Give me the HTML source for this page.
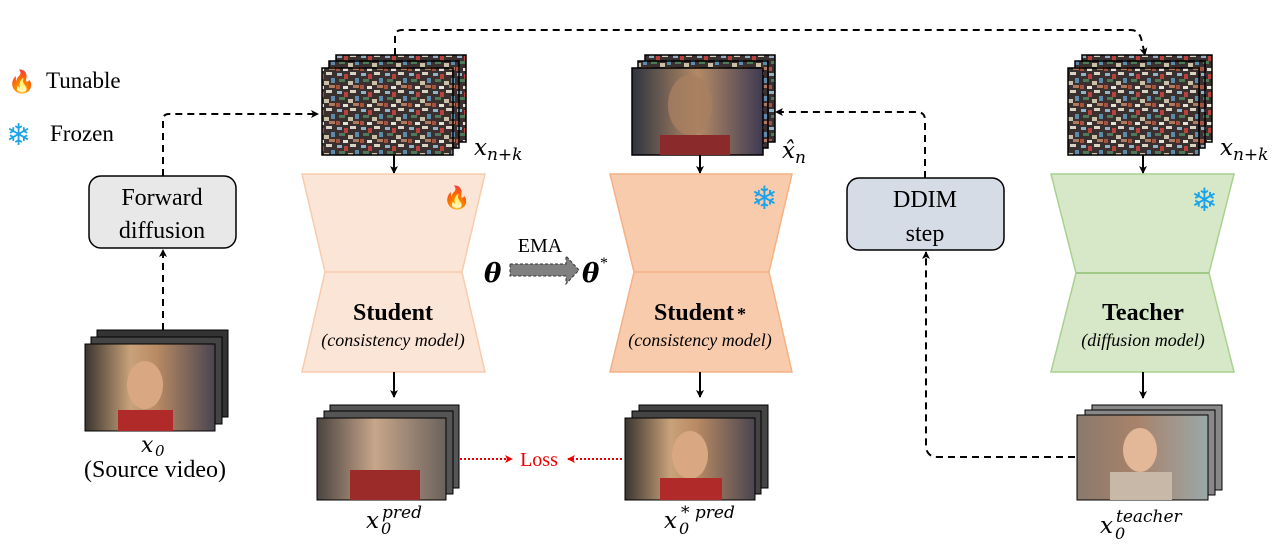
<!DOCTYPE html>
<html><head><meta charset="utf-8"><style>
html,body{margin:0;padding:0;background:#fff;}
svg{display:block;}
text{font-family:"Liberation Serif","DejaVu Serif",serif;}
.m{font-family:"DejaVu Serif","Liberation Serif",serif;font-style:italic;}
</style></head><body>
<svg width="1279" height="548" viewBox="0 0 1279 548" xmlns="http://www.w3.org/2000/svg">
<defs>
<marker id="ah" markerWidth="8" markerHeight="8" refX="7" refY="4" orient="auto" markerUnits="userSpaceOnUse"><path d="M0,0 L8,4 L0,8 L2,4 z" fill="#000"/></marker>
<marker id="ahr" markerWidth="8" markerHeight="8" refX="7" refY="4" orient="auto" markerUnits="userSpaceOnUse"><path d="M0,0 L8,4 L0,8 L2,4 z" fill="#e00"/></marker>
<pattern id="noise" width="24" height="18" patternUnits="userSpaceOnUse">
<rect width="24" height="18" fill="#3a3030"/>
<rect x="1" y="1" width="5" height="3" fill="#8fb3c9"/><rect x="8" y="2" width="4" height="5" fill="#b9423c"/>
<rect x="14" y="0" width="6" height="3" fill="#d8d3c2"/><rect x="3" y="7" width="6" height="3" fill="#4f7a5a"/>
<rect x="12" y="9" width="5" height="4" fill="#c9c0a8"/><rect x="19" y="6" width="4" height="5" fill="#5d8aac"/>
<rect x="0" y="13" width="4" height="4" fill="#a7513f"/><rect x="7" y="14" width="5" height="3" fill="#e6e2d6"/>
<rect x="17" y="13" width="6" height="3" fill="#b07a60"/>
</pattern>
<linearGradient id="g0" x1="0" y1="0" x2="1" y2="0"><stop offset="0" stop-color="#3a3530"/><stop offset=".35" stop-color="#c9a27a"/><stop offset=".55" stop-color="#b98a64"/><stop offset="1" stop-color="#4a4550"/></linearGradient>
<linearGradient id="gb" x1="0" y1="0" x2="1" y2="0"><stop offset="0" stop-color="#4a4440"/><stop offset=".45" stop-color="#c8a68a"/><stop offset="1" stop-color="#6a625c"/></linearGradient>
<linearGradient id="gt" x1="0" y1="0" x2="1" y2="0"><stop offset="0" stop-color="#8a7a6c"/><stop offset=".45" stop-color="#a8826a"/><stop offset="1" stop-color="#9aa8a8"/></linearGradient>
<linearGradient id="gs" x1="0" y1="0" x2="1" y2="0"><stop offset="0" stop-color="#2e3440"/><stop offset=".5" stop-color="#b48a66"/><stop offset="1" stop-color="#3e3a52"/></linearGradient>
</defs>

<!-- legend -->
<text x="8" y="89" font-size="22">🔥</text>
<text x="46" y="88" font-size="23">Tunable</text>
<text x="6" y="145" font-size="30" fill="#1aa3e8">❄</text>
<text x="50" y="141" font-size="23">Frozen</text>

<!-- Forward diffusion -->
<rect x="89" y="176" width="147" height="72" rx="12" fill="#e8e8e8" stroke="#000" stroke-width="1.5"/>
<text x="162" y="205" font-size="24" text-anchor="middle">Forward</text>
<text x="162" y="238" font-size="24" text-anchor="middle">diffusion</text>
<path d="M163,330 L163,250" stroke="#000" stroke-width="2" stroke-dasharray="7,5" fill="none" marker-end="url(#ah)"/>
<path d="M163,176 L163,120 Q163,114 169,114 L318,114" stroke="#000" stroke-width="2" stroke-dasharray="7,5" fill="none" marker-end="url(#ah)"/>

<!-- x0 stack -->
<rect x="97" y="330" width="131" height="87" fill="#333" stroke="#000"/>
<rect x="91" y="337" width="131" height="87" fill="#444" stroke="#000"/>
<rect x="85" y="344" width="130" height="87" fill="url(#g0)" stroke="#000"/>
<ellipse cx="145" cy="385" rx="18" ry="24" fill="#d9a883"/>
<rect x="118" y="410" width="55" height="21" fill="#b02a2a"/>
<text x="141" y="452" font-size="22" class="m">x</text><text x="155" y="456" font-size="15" class="m" font-style="normal">0</text>
<text x="155" y="477" font-size="24" text-anchor="middle">(Source video)</text>

<!-- top dashed -->
<path d="M395,55 L395,37 Q395,30 402,30 L1131,30 Q1138,30 1141,38 L1145,55" stroke="#000" stroke-width="2" stroke-dasharray="7,5" fill="none" marker-end="url(#ah)"/>

<!-- Student stack noise -->
<rect x="336" y="55" width="130" height="87" fill="url(#noise)" stroke="#000" stroke-width="1.5"/>
<rect x="329" y="61" width="130" height="87" fill="url(#noise)" stroke="#000" stroke-width="1.5"/>
<rect x="322" y="68" width="131" height="87" fill="url(#noise)" stroke="#000" stroke-width="1.5"/>
<text x="474" y="155" font-size="23" class="m">x<tspan font-size="17" dy="5">n+k</tspan></text>
<path d="M394,155 L394,173" stroke="#000" stroke-width="2" marker-end="url(#ah)"/>

<!-- Student -->
<path d="M302,174 L485,174 L462,272 L485,372 L302,372 L325,272 Z" fill="#fbe5d6" stroke="#f8cbad" stroke-width="1.5"/>
<line x1="325" y1="272" x2="462" y2="272" stroke="#f8cbad" stroke-width="1.5"/>
<text x="443" y="205" font-size="22">🔥</text>
<text x="393" y="320" font-size="24" font-weight="bold" text-anchor="middle">Student</text>
<text x="393" y="346" font-size="18" font-style="italic" text-anchor="middle">(consistency model)</text>
<path d="M394,372 L394,397" stroke="#000" stroke-width="2" marker-end="url(#ah)"/>

<!-- EMA -->
<text x="540" y="252" font-size="20" text-anchor="middle">EMA</text>
<text x="484" y="282" font-size="26" font-weight="bold" class="m">θ</text>
<path d="M510,264 L566,264 L566,256 L579,270 L566,284 L566,276 L510,276 Z" fill="#808080" stroke="#333" stroke-width="1" stroke-dasharray="3,2"/>
<text x="582" y="282" font-size="26" font-weight="bold" class="m">θ</text>
<text x="600" y="268" font-size="16">*</text>

<!-- Student pred output -->
<rect x="330" y="405" width="129" height="83" fill="#555" stroke="#000"/>
<rect x="324" y="411" width="129" height="83" fill="#555" stroke="#000"/>
<rect x="317" y="418" width="129" height="82" fill="url(#gb)" stroke="#000"/>
<rect x="350" y="470" width="70" height="30" fill="#9a2b28"/>
<text x="366" y="528" font-size="23" class="m">x</text><text x="381" y="534" font-size="16" class="m" font-style="normal">0</text>
<text x="382" y="518" font-size="17" class="m">pred</text>

<!-- Loss -->
<path d="M460,459 L512,459" stroke="#e00" stroke-width="2" stroke-dasharray="2,2" marker-end="url(#ahr)"/>
<text x="539" y="466" font-size="20" fill="#e00" text-anchor="middle">Loss</text>
<path d="M622,459 L568,459" stroke="#e00" stroke-width="2" stroke-dasharray="2,2" marker-end="url(#ahr)"/>

<!-- Student* stack -->
<rect x="645" y="55" width="130" height="87" fill="url(#noise)" stroke="#000" stroke-width="1.5"/>
<rect x="638" y="61" width="130" height="87" fill="url(#noise)" stroke="#000" stroke-width="1.5"/>
<rect x="632" y="68" width="131" height="87" fill="url(#gs)" stroke="#000" stroke-width="1.5"/>
<ellipse cx="690" cy="105" rx="22" ry="30" fill="#a88060" opacity=".8"/>
<rect x="660" y="135" width="70" height="20" fill="#8a2a2a"/>
<text x="782" y="158" font-size="23" class="m">x̂<tspan font-size="17" dy="5">n</tspan></text>
<path d="M700,155 L700,173" stroke="#000" stroke-width="2" marker-end="url(#ah)"/>

<!-- Student* -->
<path d="M610,174 L792,174 L769,272 L792,372 L610,372 L634,272 Z" fill="#f8cbad" stroke="#f4b183" stroke-width="1.5"/>
<line x1="634" y1="272" x2="769" y2="272" stroke="#f4b183" stroke-width="1.5"/>
<text x="751" y="209" font-size="32" fill="#1aa3e8">❄</text>
<text x="700" y="320" font-size="24" font-weight="bold" text-anchor="middle">Student<tspan font-size="18" dx="3">*</tspan></text>
<text x="700" y="346" font-size="18" font-style="italic" text-anchor="middle">(consistency model)</text>
<path d="M700,372 L700,397" stroke="#000" stroke-width="2" marker-end="url(#ah)"/>

<!-- Student* output -->
<rect x="639" y="405" width="129" height="83" fill="#444" stroke="#000"/>
<rect x="632" y="411" width="129" height="83" fill="#444" stroke="#000"/>
<rect x="625" y="418" width="130" height="82" fill="url(#g0)" stroke="#000"/>
<ellipse cx="690" cy="455" rx="18" ry="24" fill="#d9a883"/>
<rect x="660" y="478" width="62" height="22" fill="#b02a2a"/>
<text x="664" y="528" font-size="23" class="m">x</text><text x="679" y="534" font-size="16" class="m" font-style="normal">0</text>
<text x="681" y="518" font-size="17" class="m">* pred</text>

<!-- DDIM -->
<rect x="847" y="178" width="157" height="72" rx="12" fill="#d6dce5" stroke="#000" stroke-width="1.5"/>
<text x="925" y="207" font-size="24" text-anchor="middle">DDIM</text>
<text x="925" y="241" font-size="24" text-anchor="middle">step</text>
<path d="M925,178 L925,120 Q925,112 917,112 L776,112" stroke="#000" stroke-width="2" stroke-dasharray="7,5" fill="none" marker-end="url(#ah)"/>
<path d="M1075,457 L938,457 Q926,457 926,445 L926,252" stroke="#000" stroke-width="2" stroke-dasharray="7,5" fill="none" marker-end="url(#ah)"/>

<!-- Teacher stack -->
<rect x="1082" y="55" width="130" height="87" fill="url(#noise)" stroke="#000" stroke-width="1.5"/>
<rect x="1075" y="61" width="130" height="87" fill="url(#noise)" stroke="#000" stroke-width="1.5"/>
<rect x="1068" y="68" width="131" height="87" fill="url(#noise)" stroke="#000" stroke-width="1.5"/>
<text x="1220" y="155" font-size="23" class="m">x<tspan font-size="17" dy="5">n+k</tspan></text>
<path d="M1143,155 L1143,173" stroke="#000" stroke-width="2" marker-end="url(#ah)"/>

<!-- Teacher -->
<path d="M1051,174 L1234,174 L1209,273 L1234,372 L1051,372 L1076,273 Z" fill="#d6e8c8" stroke="#a9d18e" stroke-width="1.5"/>
<line x1="1076" y1="273" x2="1209" y2="273" stroke="#8fbf72" stroke-width="1.5"/>
<text x="1191" y="211" font-size="32" fill="#1aa3e8">❄</text>
<text x="1143" y="320" font-size="24" font-weight="bold" text-anchor="middle">Teacher</text>
<text x="1143" y="346" font-size="18" font-style="italic" text-anchor="middle">(diffusion model)</text>
<path d="M1143,372 L1143,398" stroke="#000" stroke-width="2" marker-end="url(#ah)"/>

<!-- Teacher output -->
<rect x="1092" y="405" width="130" height="85" fill="#888" stroke="#000"/>
<rect x="1085" y="410" width="130" height="85" fill="#888" stroke="#000"/>
<rect x="1077" y="415" width="131" height="85" fill="url(#gt)" stroke="#000"/>
<ellipse cx="1140" cy="450" rx="17" ry="22" fill="#e2b898"/>
<rect x="1110" y="472" width="62" height="28" fill="#c8b8a8"/>
<text x="1100" y="533" font-size="23" class="m">x</text><text x="1115" y="539" font-size="16" class="m" font-style="normal">0</text>
<text x="1116" y="522" font-size="17" class="m">teacher</text>
</svg>
</body></html>
